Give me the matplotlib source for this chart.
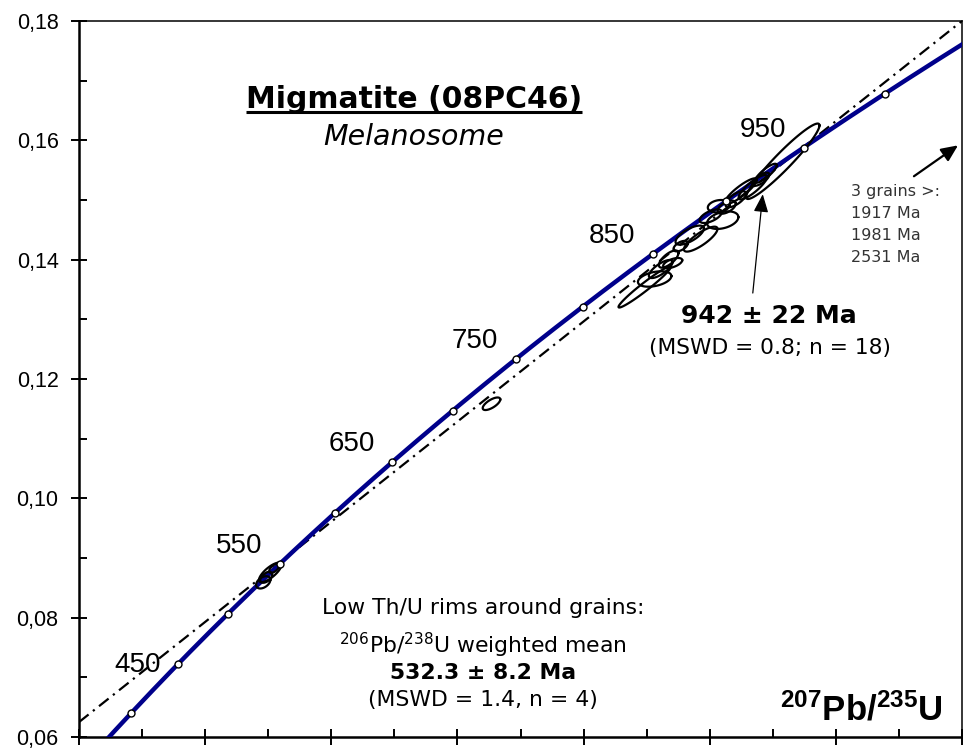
import numpy as np
import matplotlib.pyplot as plt
from matplotlib.ticker import MultipleLocator, FuncFormatter

plt.rcParams['mathtext.fontset'] = 'custom'
plt.rcParams['mathtext.rm'] = 'DejaVu Sans'
plt.rcParams['mathtext.bf'] = 'Liberation Sans:bold'

# decay constants (per year)
LAMBDA_238 = 1.55125e-10
LAMBDA_235 = 9.8485e-10

# concordia age markers and labels (Ma)
marker_ages = [400, 450, 500, 550, 600, 650, 700, 750, 800, 850, 900, 950, 1000]
label_ages = [450, 550, 650, 750, 850, 950]

# discordia chord (dash-dot)
disc_x = [0.40, 1.80]
disc_y = [0.0625, 0.1800]

# analyses: 207Pb/235U, 206Pb/238U, error half-widths (x, y), correlation
ell_x = [1.2968, 1.3127, 1.3222, 1.3349, 1.3413, 1.3683, 1.3857, 1.4206, 1.4143,
         1.4270, 1.4492, 1.4683, 1.4889, 1.5159, 1.4016, 1.3540, 1.4413, 1.4810,
         0.7032, 0.6921, 0.6968, 0.7095, 1.0540]
ell_y = [0.13542, 0.13676, 0.13843, 0.14010, 0.13943, 0.14411, 0.14344, 0.14662, 0.14896,
         0.14880, 0.15147, 0.15214, 0.15448, 0.15649, 0.14729, 0.14227, 0.15013, 0.15348,
         0.08759, 0.08592, 0.08676, 0.08826, 0.11585]
ell_sx = [0.0414, 0.0265, 0.0187, 0.0155, 0.0151, 0.0225, 0.0266, 0.0248, 0.0173,
          0.0143, 0.0255, 0.0225, 0.0175, 0.0581, 0.0176, 0.0114, 0.0163, 0.0135,
          0.0178, 0.0113, 0.0094, 0.0079, 0.0139]
ell_sy = [0.00344, 0.00129, 0.00151, 0.00144, 0.00085, 0.00160, 0.00209, 0.00147, 0.00104,
          0.00110, 0.00216, 0.00204, 0.00159, 0.00632, 0.00114, 0.00088, 0.00134, 0.00110,
          0.00164, 0.00103, 0.00091, 0.00075, 0.00105]
ell_rho = [0.97, 0.38, 0.75, 0.70, 0.56, 0.70, 0.82, 0.35, 0.22,
           0.55, 0.88, 0.85, 0.85, 0.95, 0.60, 0.55, 0.68, 0.70,
           0.77, 0.42, 0.50, 0.60, 0.69]

grain_ages = ['1917 Ma', '1981 Ma', '2531 Ma']


def concordia(t_ma):
    t = np.asarray(t_ma, dtype=float) * 1e6
    return np.exp(LAMBDA_235 * t) - 1, np.exp(LAMBDA_238 * t) - 1


fig = plt.figure(figsize=(9.63, 7.49), dpi=100)
ax = fig.add_axes([79 / 963, 12 / 749, 883 / 963, 716 / 749])
ax.set_xlim(0.4, 1.8)
ax.set_ylim(0.06, 0.18)

# discordia
ax.plot(disc_x, disc_y, color='black', lw=1.6, linestyle=(0, (5.5, 2.5, 1, 2.5)), zorder=2)

# concordia curve
ages = np.linspace(300, 1100, 400)
cx, cy = concordia(ages)
ax.plot(cx, cy, color='#00008B', lw=3.2, zorder=3, solid_capstyle='butt')

# error ellipses
t = np.linspace(0, 2 * np.pi, 120)
for x0, y0, sx, sy, r in zip(ell_x, ell_y, ell_sx, ell_sy, ell_rho):
    ex = x0 + sx * np.cos(t)
    ey = y0 + sy * (r * np.cos(t) + np.sqrt(1 - r ** 2) * np.sin(t))
    ax.plot(ex, ey, color='black', lw=1.6, zorder=4)

# age markers
mx, my = concordia(marker_ages)
ax.plot(mx, my, 'o', ms=5, mfc='white', mec='black', mew=1, zorder=5, linestyle='none')

# age labels
lx, ly = concordia(label_ages)
for age, x0, y0 in zip(label_ages, lx, ly):
    off = (-41, -1) if age == 450 else (-41, 18)
    ax.annotate(str(age), (x0, y0), xytext=off, textcoords='offset pixels',
                ha='center', va='center', fontsize=20, family='Liberation Sans')

# axes styling
for side in ['left', 'bottom']:
    ax.spines[side].set_linewidth(1.8)
for side in ['top', 'right']:
    ax.spines[side].set_linewidth(1.1)

ax.xaxis.set_major_locator(MultipleLocator(0.2))
ax.xaxis.set_minor_locator(MultipleLocator(0.1))
ax.yaxis.set_major_locator(MultipleLocator(0.02))
ax.yaxis.set_minor_locator(MultipleLocator(0.01))
ax.yaxis.set_major_formatter(FuncFormatter(lambda v, p: f'{v:.2f}'.replace('.', ',')))
ax.tick_params(which='major', direction='inout', length=11.5, width=1.4,
               labelsize=15.5, pad=9, labelfontfamily='Liberation Sans')
ax.tick_params(which='minor', direction='in', length=6, width=1.4)
ax.tick_params(axis='x', labelbottom=False)

# title
title = ax.text(0.3794, 0.8897, 'Migmatite (08PC46)', transform=ax.transAxes,
                ha='center', va='center', fontsize=21.5, fontweight='bold',
                family='DejaVu Sans')
ax.text(0.3794, 0.838, 'Melanosome', transform=ax.transAxes, ha='center',
        va='center', fontsize=20.5, style='italic', family='DejaVu Sans')
fig.canvas.draw()
bb = title.get_window_extent(fig.canvas.get_renderer()).transformed(ax.transAxes.inverted())
ax.plot([bb.x0, bb.x1], [0.8729, 0.8729], transform=ax.transAxes, color='black',
        lw=2.2, clip_on=False, solid_capstyle='butt')

# main age result
ax.text(0.7814, 0.588, '942 ± 22 Ma', transform=ax.transAxes, ha='center',
        va='center', fontsize=18, fontweight='bold', family='DejaVu Sans')
ax.text(0.7826, 0.5433, '(MSWD = 0.8; n = 18)', transform=ax.transAxes,
        ha='center', va='center', fontsize=15.7, family='DejaVu Sans')
ax.annotate('', xy=(1.4841, 0.15097), xytext=(1.4683, 0.13441),
            arrowprops=dict(arrowstyle='-|>,head_length=1.1,head_width=0.45',
                            color='black', lw=0.9, shrinkA=0, shrinkB=0), zorder=6)

# off-scale grains
ax.text(0.8743, 0.7612, '3 grains >:', transform=ax.transAxes, ha='left',
        va='center', fontsize=11.5, color='#333333', family='DejaVu Sans')
for i, g in enumerate(grain_ages):
    ax.text(0.8743, 0.7318 - i * 0.0312, g, transform=ax.transAxes, ha='left',
            va='center', fontsize=11.5, color='#333333', family='DejaVu Sans')
ax.annotate('', xy=(1.7937, 0.15916), xytext=(1.7238, 0.15398),
            arrowprops=dict(arrowstyle='-|>,head_length=1.0,head_width=0.45',
                            color='black', lw=1.6, shrinkA=0, shrinkB=0), zorder=6)

# rim result
ax.text(0.4575, 0.1802, 'Low Th/U rims around grains:', transform=ax.transAxes,
        ha='center', va='center', fontsize=15.75, family='DejaVu Sans')
ax.text(0.4575, 0.1285, r'$^{206}$Pb/$^{238}$U weighted mean', transform=ax.transAxes,
        ha='center', va='center', fontsize=15.75, family='DejaVu Sans')
ax.text(0.4575, 0.0894, '532.3 ± 8.2 Ma', transform=ax.transAxes, ha='center',
        va='center', fontsize=15.75, fontweight='bold', family='DejaVu Sans')
ax.text(0.4575, 0.0517, '(MSWD = 1.4, n = 4)', transform=ax.transAxes, ha='center',
        va='center', fontsize=15.75, family='DejaVu Sans')

# axis label
ax.text(0.9785, 0.0377, r'$\mathbf{^{207}Pb/^{235}U}$', transform=ax.transAxes,
        ha='right', va='center', fontsize=25)

fig.savefig('out.png', dpi=100)
